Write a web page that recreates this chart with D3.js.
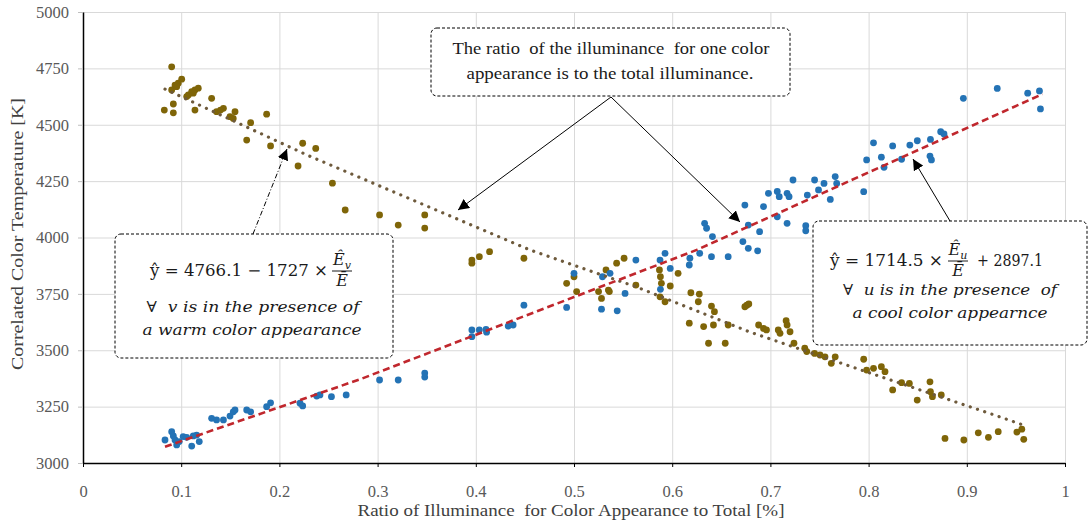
<!DOCTYPE html>
<html lang="en">
<head>
<meta charset="UTF-8">
<title>CCT vs ratio of illuminance</title>
<script src="https://d3js.org/d3.v7.min.js"></script>
<style>
  body { margin: 0; background: #fff; }
</style>
</head>
<body>
<svg id="chart" width="1089" height="524"></svg>
<script>
// ---- data ----
var xTicks = [0, 0.1, 0.2, 0.3, 0.4, 0.5, 0.6, 0.7, 0.8, 0.9, 1];
var yTicks = [3000, 3250, 3500, 3750, 4000, 4250, 4500, 4750, 5000];

// cool colour appearance (blue)
var coolX = [0.0835, 0.0903, 0.092, 0.0937, 0.0954, 0.098, 0.102, 0.1056, 0.1107, 0.1123, 0.1157, 0.1184,
  0.131, 0.136, 0.143, 0.1497, 0.153, 0.1548, 0.1667, 0.1707, 0.187, 0.191, 0.221, 0.2237, 0.238, 0.2413,
  0.253, 0.268, 0.302, 0.321, 0.348, 0.348, 0.396, 0.396, 0.4036, 0.4104, 0.411, 0.433, 0.438, 0.449,
  0.4925, 0.5, 0.528, 0.529, 0.5367, 0.544, 0.552, 0.563, 0.5876, 0.588, 0.5927, 0.598, 0.6174, 0.618,
  0.628, 0.633, 0.635, 0.641, 0.640, 0.657, 0.674, 0.672, 0.6775, 0.6775, 0.687, 0.689, 0.693, 0.698,
  0.707, 0.709, 0.707, 0.717, 0.719, 0.717, 0.723, 0.736, 0.736, 0.7376, 0.745, 0.749, 0.7546, 0.761,
  0.766, 0.7675, 0.795, 0.798, 0.805, 0.813, 0.8157, 0.8245, 0.8336, 0.842, 0.8496, 0.863, 0.8625, 0.864,
  0.8734, 0.8768, 0.8965, 0.931, 0.962, 0.974, 0.975];
var coolY = [3102, 3139, 3120, 3102, 3080, 3095, 3117, 3114, 3075, 3120, 3124, 3095,
  3198, 3191, 3191, 3208, 3227, 3235, 3235, 3227, 3250, 3267, 3265, 3253, 3297, 3302,
  3294, 3302, 3368, 3368, 3399, 3381, 3590, 3560, 3590, 3593, 3580, 3607, 3612, 3700,
  3690, 3841, 3682, 3826, 3841, 3675, 3752, 3900, 3900, 3770, 3930, 3863, 3878, 3908,
  3930, 4063, 4041, 4004, 3915, 3915, 4144, 3982, 4055, 3952, 3941, 4026, 4137, 4196,
  4204, 4181, 4092, 4196, 4181, 4063, 4255, 4052, 4030, 4188, 4255, 4211, 4240, 4169,
  4270, 4240, 4203, 4344, 4420, 4356, 4311, 4406, 4347, 4410, 4429, 4435, 4361, 4344,
  4469, 4459, 4617, 4661, 4640, 4650, 4570];

// warm colour appearance (olive)
var warmX = [0.0903, 0.0828, 0.092, 0.092, 0.0937, 0.097, 0.1005, 0.0903, 0.0954, 0.1073, 0.1107, 0.114,
  0.1174, 0.114, 0.1123, 0.1056, 0.131, 0.136, 0.143, 0.140, 0.1497, 0.1548, 0.153, 0.1707, 0.1667, 0.187,
  0.191, 0.2237, 0.219, 0.237, 0.254, 0.267, 0.302, 0.321, 0.348, 0.348, 0.396, 0.396, 0.4036, 0.414,
  0.449, 0.4925, 0.5, 0.5027, 0.525, 0.528, 0.5326, 0.535, 0.536, 0.5434, 0.551, 0.563, 0.587, 0.588,
  0.589, 0.5876, 0.5927, 0.598, 0.606, 0.619, 0.6276, 0.6266, 0.6174, 0.632, 0.640, 0.643, 0.642, 0.637,
  0.657, 0.654, 0.674, 0.676, 0.678, 0.688, 0.693, 0.696, 0.708, 0.7098, 0.716, 0.717, 0.72, 0.724,
  0.735, 0.737, 0.745, 0.7505, 0.7556, 0.762, 0.766, 0.795, 0.798, 0.805, 0.813, 0.8167, 0.8245, 0.8336,
  0.8415, 0.8495, 0.8625, 0.863, 0.865, 0.874, 0.8778, 0.897, 0.9117, 0.922, 0.932, 0.951, 0.956, 0.958];
var warmY = [4757, 4565, 4553, 4592, 4676, 4684, 4702, 4654, 4669, 4632, 4647, 4654,
  4662, 4565, 4640, 4625, 4617, 4558, 4573, 4565, 4536, 4558, 4528, 4509, 4432, 4547,
  4406, 4418, 4317, 4395, 4241, 4122, 4100, 4055, 4100, 4042, 3886, 3900, 3915, 3937,
  3908, 3797, 3826, 3760, 3760, 3730, 3856, 3767, 3760, 3886, 3908, 3789, 3856, 3826,
  3797, 3737, 3715, 3785, 3841, 3755, 3749, 3715, 3620, 3605, 3696, 3671, 3612, 3531,
  3612, 3531, 3693, 3700, 3705, 3612, 3597, 3590, 3590, 3575, 3631, 3612, 3582, 3531,
  3509, 3494, 3486, 3479, 3471, 3442, 3471, 3460, 3412, 3420, 3427, 3405, 3324, 3356,
  3353, 3279, 3360, 3316, 3294, 3302, 3109, 3102, 3134, 3114, 3139, 3137, 3150, 3105];

// trend lines, points
var coolTrendX = [0.0835, 0.282, 0.5, 0.625, 0.934, 0.977];
var coolTrendY = [3072, 3371, 3736, 3945, 4552, 4636];
var warmTrendX = [0.0835, 0.228, 0.455, 0.564, 0.679, 0.798, 0.934, 0.957];
var warmTrendY = [4658, 4366, 3945, 3780, 3581, 3404, 3204, 3169];

var serif = "'Liberation Serif', 'Times New Roman', serif";
var mathF = "'DejaVu Serif', serif";

var svg = d3.select("#chart");

var x = d3.scaleLinear().domain([0, 1]).range([83, 1065]);
var y = d3.scaleLinear().domain([3000, 5000]).range([463, 12]);

// gridlines
svg.append("g")
  .attr("transform", "translate(0,463)")
  .call(d3.axisBottom(x).tickValues(xTicks).tickSize(-451).tickFormat(""))
  .call(function(g) {
    g.select(".domain").remove();
    g.selectAll("line").attr("stroke", "#d9d9d9");
  });
svg.append("g")
  .attr("transform", "translate(83,0)")
  .call(d3.axisLeft(y).tickValues(yTicks).tickSize(-982).tickFormat(""))
  .call(function(g) {
    g.select(".domain").remove();
    g.selectAll("line").attr("stroke", "#d9d9d9");
  });

// axes
var xAxis = svg.append("g")
  .attr("transform", "translate(0,463)")
  .call(d3.axisBottom(x).tickValues(xTicks).tickSize(4).tickSizeOuter(0)
    .tickFormat(function(d) { return String(d); }));
var yAxis = svg.append("g")
  .attr("transform", "translate(83,0)")
  .call(d3.axisLeft(y).tickValues(yTicks).tickSize(5).tickSizeOuter(0)
    .tickFormat(function(d) { return String(d); }));

[xAxis, yAxis].forEach(function(g) {
  g.attr("font-family", serif).attr("font-size", 16.5);
  g.select(".domain").attr("stroke", "#000").attr("stroke-width", 1.5);
  g.selectAll(".tick line").attr("stroke", "#000");
  g.selectAll("text").attr("fill", "#595959");
});
yAxis.selectAll(".tick line").attr("stroke", "#bfbfbf");
xAxis.selectAll("text").attr("y", 22).attr("dy", "0.71em");
yAxis.selectAll("text").attr("x", -14);

// axis titles
svg.append("text")
  .attr("x", 571).attr("y", 516)
  .attr("text-anchor", "middle")
  .attr("fill", "#404040")
  .attr("font-family", serif)
  .attr("font-size", 17)
  .attr("textLength", 427).attr("lengthAdjust", "spacingAndGlyphs")
  .style("white-space", "pre")
  .text("Ratio of Illuminance  for Color Appearance to Total [%]");
svg.append("text")
  .attr("transform", "translate(23,234) rotate(-90)")
  .attr("text-anchor", "middle")
  .attr("fill", "#404040")
  .attr("font-family", serif)
  .attr("font-size", 17)
  .attr("textLength", 272).attr("lengthAdjust", "spacingAndGlyphs")
  .text("Correlated Color Temperature [K]");

// scatter
function dots(xs, ys, color) {
  svg.append("g").selectAll("circle")
    .data(xs.map(function(d, i) { return [d, ys[i]]; }))
    .enter().append("circle")
    .attr("cx", function(d) { return x(d[0]); })
    .attr("cy", function(d) { return y(d[1]); })
    .attr("r", 3.4)
    .attr("fill", color);
}
dots(warmX, warmY, "#7f6508");
dots(coolX, coolY, "#2473b5");

// trend lines
var line = d3.line()
  .x(function(d) { return x(d[0]); })
  .y(function(d) { return y(d[1]); });
svg.append("path")
  .datum(warmTrendX.map(function(d, i) { return [d, warmTrendY[i]]; }))
  .attr("d", line)
  .attr("fill", "none")
  .attr("stroke", "#6e5a3c").attr("stroke-width", 3.2)
  .attr("stroke-linecap", "round")
  .attr("stroke-dasharray", "0.1,7.5");
svg.append("path")
  .datum(coolTrendX.map(function(d, i) { return [d, coolTrendY[i]]; }))
  .attr("d", line)
  .attr("fill", "none")
  .attr("stroke", "#c0272d").attr("stroke-width", 2.6)
  .attr("stroke-dasharray", "7,4");

// annotations
var defs = svg.append("defs");
defs.append("marker")
  .attr("id", "head")
  .attr("viewBox", "0 0 10 10")
  .attr("refX", 10).attr("refY", 5)
  .attr("markerWidth", 11).attr("markerHeight", 11)
  .attr("markerUnits", "userSpaceOnUse")
  .attr("orient", "auto")
  .append("path").attr("d", "M0,0 L10,5 L0,10 z").attr("fill", "#000");

function arrow(x1, y1, x2, y2, dash) {
  svg.append("line")
    .attr("x1", x1).attr("y1", y1).attr("x2", x2).attr("y2", y2)
    .attr("stroke", "#000").attr("stroke-width", 1)
    .attr("stroke-dasharray", dash)
    .attr("marker-end", "url(#head)");
}
arrow(611, 97, 458, 210, "none");
arrow(611, 97, 740, 222, "none");
arrow(253, 234, 287, 149, "5,2,1,2");
arrow(950, 221, 913, 159, "none");

function box(x0, y0, w, h) {
  svg.append("rect")
    .attr("x", x0).attr("y", y0).attr("width", w).attr("height", h)
    .attr("rx", 6).attr("ry", 6)
    .attr("fill", "#fff")
    .attr("stroke", "#000").attr("stroke-width", 1)
    .attr("stroke-dasharray", "3,2");
}
box(431, 28, 359, 68);
box(115, 234, 278, 124);
box(813, 221, 274, 124);

function txt(tx, ty, s, opts) {
  opts = opts || {};
  var t = svg.append("text")
    .attr("x", tx).attr("y", ty)
    .attr("text-anchor", opts.anchor || "middle")
    .attr("fill", opts.fill || "#1a1a1a")
    .attr("font-family", opts.font || serif)
    .attr("font-size", opts.size || 16)
    .attr("font-style", opts.italic ? "italic" : "normal")
    .style("white-space", "pre")
    .text(s);
  if (opts.len) t.attr("textLength", opts.len).attr("lengthAdjust", "spacingAndGlyphs");
  return t;
}

txt(611, 54, "The ratio  of the illuminance  for one color", {size: 17, len: 317});
txt(610, 79, "appearance is to the total illuminance.", {size: 17, len: 287});

function frac(cx, cy, sub) {
  var num = svg.append("text").attr("x", cx).attr("y", cy - 6)
    .attr("text-anchor", "middle").attr("fill", "#1a1a1a")
    .attr("font-family", mathF).attr("font-size", 16).attr("font-style", "italic");
  num.append("tspan").text("\u00ca");
  num.append("tspan").attr("dy", 4).attr("font-size", 11).text(sub);
  svg.append("line")
    .attr("x1", cx - 10).attr("x2", cx + 10)
    .attr("y1", cy).attr("y2", cy)
    .attr("stroke", "#1a1a1a").attr("stroke-width", 1);
  txt(cx, cy + 15, "\u0112", {font: mathF, size: 16, italic: true});
}

// left equation
txt(150, 276, "\u0177 = 4766.1 \u2212 1727 \u00d7", {anchor: "start", font: mathF, size: 16, len: 178});
frac(342, 271, "v");
txt(253, 312, "\u2200  v is in the presence of", {font: mathF, size: 15, italic: true, len: 213});
txt(252, 335, "a warm color appearance", {font: mathF, size: 15, italic: true, len: 219});

// right equation
txt(830, 266, "\u0177 = 1714.5 \u00d7", {anchor: "start", font: mathF, size: 16, len: 113});
frac(958, 261, "u");
txt(977, 266, "+ 2897.1", {anchor: "start", font: mathF, size: 16, len: 66});
txt(950, 295, "\u2200  u is in the presence  of", {font: mathF, size: 15, italic: true, len: 214});
txt(950, 318, "a cool color appearnce", {font: mathF, size: 15, italic: true, len: 195});
</script>
</body>
</html>
